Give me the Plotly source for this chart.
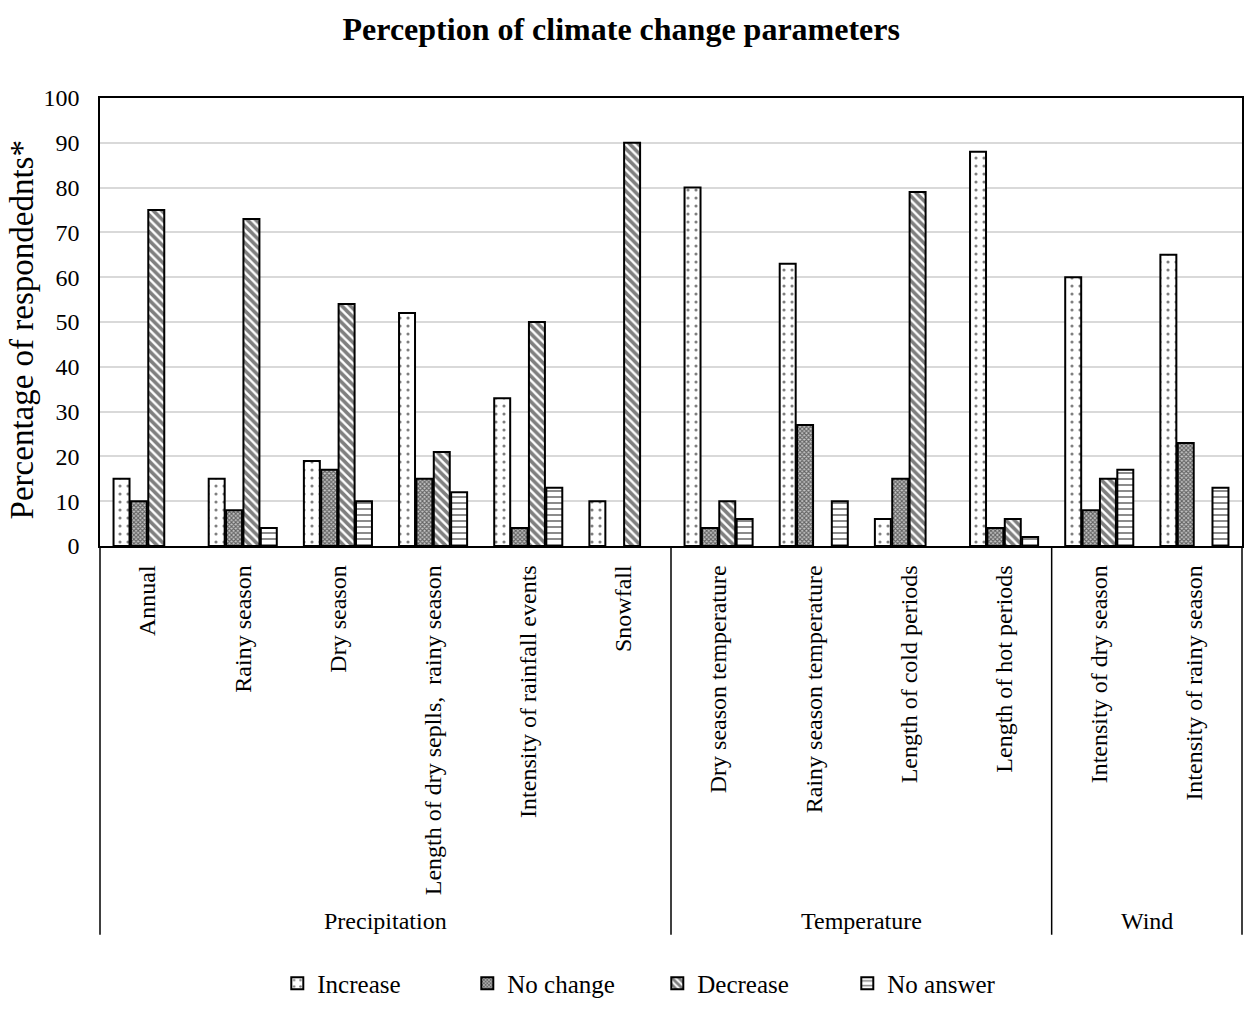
import plotly.graph_objects as go

categories = ["Annual", "Rainy season", "Dry season", "Length of dry seplls,  rainy season",
              "Intensity of rainfall events", "Snowfall", "Dry season temperature",
              "Rainy season temperature", "Length of cold periods", "Length of hot periods",
              "Intensity of dry season", "Intensity of rainy season"]
groups = ["Precipitation", "Temperature", "Wind"]
group_sizes = [6, 4, 2]

increase = [15, 15, 19, 52, 33, 10, 80, 63, 6, 88, 60, 65]
no_change = [10, 8, 17, 15, 4, 0, 4, 27, 15, 4, 8, 23]
decrease = [75, 73, 54, 21, 50, 90, 10, 0, 79, 6, 15, 0]
no_answer = [0, 4, 10, 12, 13, 0, 6, 10, 0, 2, 17, 13]

series = [("Increase", increase, dict(shape=".", size=8, solidity=0.12, fgcolor="black", bgcolor="white")),
          ("No change", no_change, dict(shape="x", size=3, solidity=0.6, fgcolor="black", bgcolor="#c8c8c8")),
          ("Decrease", decrease, dict(shape="\\", size=6, solidity=0.6, fgcolor="black", bgcolor="white")),
          ("No answer", no_answer, dict(shape="-", size=6, solidity=0.3, fgcolor="black", bgcolor="white"))]

FONT = "Liberation Serif, Times New Roman, serif"
fig = go.Figure()
for name, vals, pat in series:
    # zero-valued bars are not drawn (as in the original chart)
    fig.add_trace(go.Bar(x=categories, y=[v if v > 0 else None for v in vals], name=name,
                         marker=dict(color="white", pattern=pat,
                                     line=dict(color="black", width=2))))

n = len(categories)
shapes = []
annotations = []
bounds = [0]
for s in group_sizes:
    bounds.append(bounds[-1] + s)
for b in bounds:
    xp = b / n
    shapes.append(dict(type="line", xref="paper", yref="paper", x0=xp, x1=xp, y0=0, y1=-0.868,
                       line=dict(color="black", width=1.5)))
for i, g in enumerate(groups):
    xc = (bounds[i] + bounds[i + 1]) / 2 / n
    annotations.append(dict(text=g, xref="paper", yref="paper", x=xc, y=-0.837, showarrow=False,
                            font=dict(family=FONT, size=24, color="black"),
                            xanchor="center", yanchor="middle"))
annotations.append(dict(text="Percentage of respondednts*", xref="paper", yref="paper",
                        x=-0.068, y=0.482, textangle=-90, showarrow=False, xanchor="center",
                        yanchor="middle", font=dict(family=FONT, size=33, color="black")))

fig.update_layout(
    width=1250, height=1014,
    margin=dict(l=100, r=8, t=98, b=468),
    paper_bgcolor="white", plot_bgcolor="white",
    title=dict(text="<b>Perception of climate change parameters</b>", x=0.497, xanchor="center",
               y=0.972, yanchor="middle", font=dict(family=FONT, size=32, color="black")),
    font=dict(family=FONT, size=24, color="black"),
    barmode="group", bargap=0.27, bargroupgap=0.08,
    xaxis=dict(tickangle=-90, showline=True, linecolor="black", linewidth=1.5, mirror=True,
               ticks="", ticklabelstandoff=8, automargin=False,
               tickfont=dict(family=FONT, size=24, color="black"), showgrid=False),
    yaxis=dict(range=[0, 100], dtick=10, showline=True, linecolor="black", linewidth=1.5, mirror=True,
               gridcolor="#d9d9d9", gridwidth=1.5, ticks="", zeroline=False,
               ticklabelstandoff=14, automargin=False,
               tickfont=dict(family=FONT, size=24, color="black")),
    legend=dict(orientation="h", x=0.488, xanchor="center", y=-1.028, yanchor="bottom",
                font=dict(family=FONT, size=25, color="black"), itemwidth=30,
                entrywidth=145, traceorder="normal"),
    shapes=shapes, annotations=annotations,
)
fig.write_html("out.html")
